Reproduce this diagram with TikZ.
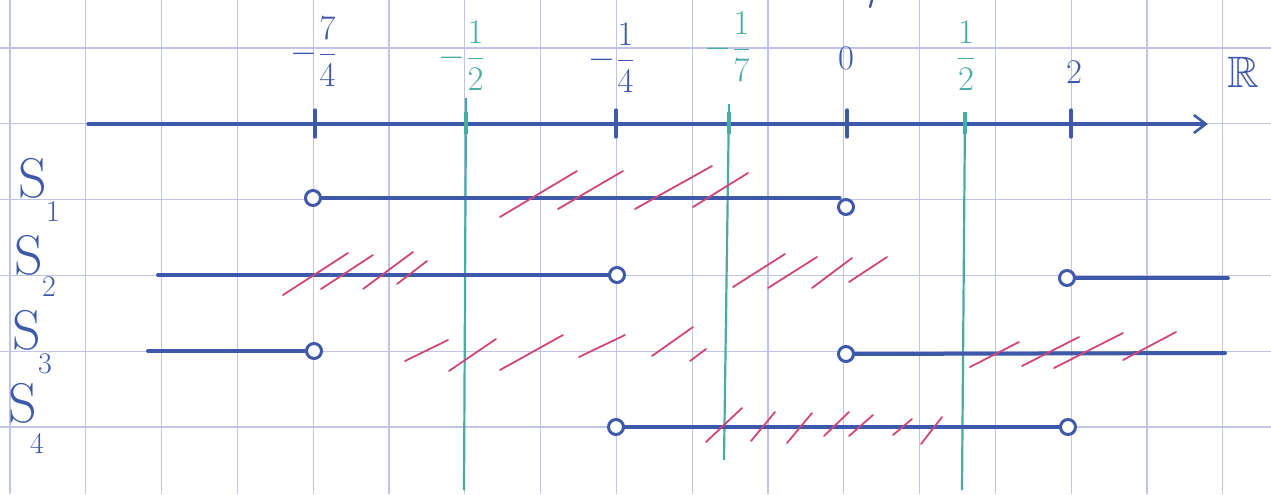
\documentclass[tikz,border=0pt]{standalone}
\usepackage{amsmath,amssymb}
\usetikzlibrary{arrows.meta}
\definecolor{ink}{RGB}{62,88,170}
\definecolor{tealink}{RGB}{72,172,162}
\definecolor{pinkink}{RGB}{206,70,122}
\definecolor{gridcol}{RGB}{192,196,232}
\tikzset{
  gridline/.style={draw=gridcol, line width=0.6pt},
  axisline/.style={draw=ink, line width=1.6pt, line cap=round},
  seg/.style={draw=ink, line width=2pt, line cap=round},
  tealline/.style={draw=tealink, line width=1.1pt},
  hatch/.style={draw=pinkink, line width=0.9pt, line cap=round},
  opencirc/.style={circle, draw=ink, fill=white, line width=1.5pt, inner sep=0pt, minimum size=7.5pt},
  lblue/.style={text=ink, font=\fontsize{17}{20}\selectfont, inner sep=0pt},
  lteal/.style={text=tealink, font=\fontsize{17}{20}\selectfont, inner sep=0pt},
  sname/.style={text=ink, font=\fontsize{28}{30}\selectfont, inner sep=0pt},
  ssub/.style={text=ink, font=\fontsize{15}{18}\selectfont, inner sep=0pt}
}
\begin{document}
\begin{tikzpicture}[x=0.5pt,y=-0.5pt]
\useasboundingbox (0,0) rectangle (1271,494);
\fill[white] (0,0) rectangle (1271,494);
% grid paper
\foreach \k in {0,...,16} \draw[gridline] ({10+75.8*\k},0) -- ({10+75.8*\k},494);
\foreach \j in {0,...,5} \draw[gridline] (0,{48+75.8*\j}) -- (1271,{48+75.8*\j});

% teal vertical lines
\coordinate (ta1) at (466,98);  \coordinate (tb1) at (464,490);
\coordinate (ta2) at (729,104); \coordinate (tb2) at (724,460);
\coordinate (ta3) at (965,114); \coordinate (tb3) at (962,490);
\draw[tealline] (ta1) -- (tb1);
\draw[tealline] (ta2) -- (tb2);
\draw[tealline] (ta3) -- (tb3);

% axis
\coordinate (axL) at (88,124);
\coordinate (axR) at (1208,124);
\draw[axisline, -{Straight Barb[length=6pt,width=9pt,line width=1.3pt]}] (axL) -- (axR);
\foreach \x in {315,616,847,1071} \draw[axisline] (\x,110) -- (\x,137);
\foreach \x in {466,729,965} \draw[tealline, line width=2pt] (\x,112) -- (\x,134);

% axis labels
\node[lblue] (l74) at (314,52) {$-\dfrac{7}{4}$};
\node[lteal] (l12m) at (462,56) {$-\dfrac{1}{2}$};
\node[lblue] (l14) at (612,58) {$-\dfrac{1}{4}$};
\node[lteal] (l17) at (728,47) {$-\dfrac{1}{7}$};
\node[lblue] (l0) at (846,58) {$0$};
\node[lteal] (l12) at (966,56) {$\dfrac{1}{2}$};
\node[lblue] (l2) at (1074,72) {$2$};
\node[lblue, font=\fontsize{22}{24}\selectfont] (lR) at (1243,72) {$\mathbb{R}$};
\draw[axisline, line width=1.2pt] (872,0) -- (870,7);

% S labels
\node[sname] (S1) at (33,178) {S}; \node[ssub] (S1i) at (53,212) {1};
\node[sname] (S2) at (29,255) {S}; \node[ssub] (S2i) at (49,287) {2};
\node[sname] (S3) at (27,330) {S}; \node[ssub] (S3i) at (45,364) {3};
\node[sname] (S4) at (23,403) {S}; \node[ssub] (S4i) at (37,443) {4};

% S1
\node[opencirc] (s1a) at (313,198) {};
\node[opencirc] (s1b) at (846,207) {};
\draw[seg] (s1a) -- (s1b.north west|-s1a);
\foreach \a/\b/\c/\d in {500/217/577/171, 558/209/623/171, 635/209/712/166, 693/207/748/173}
  \draw[hatch] (\a,\b) -- (\c,\d);

% S2
\coordinate (s2l) at (158,275);
\node[opencirc] (s2a) at (617,275) {};
\node[opencirc] (s2b) at (1067,278) {};
\coordinate (s2r) at (1228,278);
\draw[seg] (s2l) -- (s2a);
\draw[seg] (s2b) -- (s2r);
\foreach \a/\b/\c/\d in {283/295/348/253, 321/289/373/255, 363/289/413/252, 397/284/427/261,
  733/287/785/254, 768/288/817/257, 812/288/852/258, 849/282/887/257}
  \draw[hatch] (\a,\b) -- (\c,\d);

% S3
\coordinate (s3l) at (148,351);
\node[opencirc] (s3a) at (314,351) {};
\node[opencirc] (s3b) at (846,354) {};
\coordinate (s3r) at (1225,353);
\draw[seg] (s3l) -- (s3a);
\draw[seg] (s3b) -- (s3r);
\foreach \a/\b/\c/\d in {405/361/448/340, 449/371/496/339, 500/370/563/335, 579/357/625/335,
  652/356/693/327, 690/361/706/349,
  970/367/1019/342, 1022/366/1079/337, 1054/368/1123/333, 1123/360/1176/332}
  \draw[hatch] (\a,\b) -- (\c,\d);

% S4
\node[opencirc] (s4a) at (616,427) {};
\node[opencirc] (s4b) at (1068,427) {};
\draw[seg] (s4a) -- (s4b);
\foreach \a/\b/\c/\d in {706/442/742/408, 751/441/775/412, 787/443/812/413, 824/436/849/412,
  849/436/873/415, 893/435/912/419, 921/444/942/417}
  \draw[hatch] (\a,\b) -- (\c,\d);
\end{tikzpicture}
\end{document}
